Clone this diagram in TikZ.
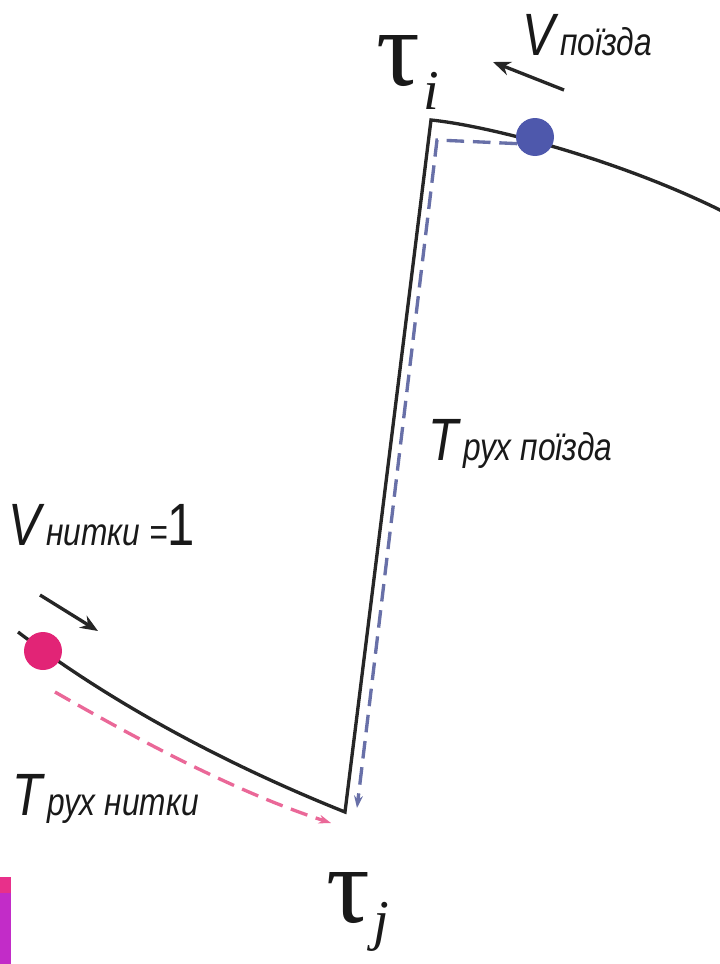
\documentclass[tikz,border=0pt]{standalone}
\usepackage{fontspec}
\usepackage{graphicx}
\newfontfamily\labelfont{Liberation Sans}
\newfontfamily\greekfont{Liberation Serif}
\usetikzlibrary{arrows.meta}

\definecolor{trainblue}{RGB}{78,88,172}
\definecolor{dashblue}{RGB}{104,112,168}
\definecolor{threadpink}{RGB}{226,36,118}
\definecolor{dashpink}{RGB}{234,104,152}
\definecolor{barpink}{RGB}{232,48,138}
\definecolor{barpurple}{RGB}{194,44,200}

\newcommand{\speedlbl}[2]{\scalebox{0.82}[1]{\labelfont\itshape\fontsize{34}{34}\selectfont #1\fontsize{22}{22}\selectfont\,#2}}
\newcommand{\taulbl}[2]{{\greekfont\fontsize{62}{62}\selectfont τ}\kern2pt\raisebox{#2}{\greekfont\itshape\fontsize{32}{32}\selectfont #1}}

\begin{document}
\begin{tikzpicture}[x=0.02cm, y=-0.02cm,
  graph/.style={line width=1.9pt, black!85, line join=miter},
  speed/.style={line width=1.9pt, black!85, -{Stealth[length=10pt,width=8pt]}},
  route/.style={line width=1.9pt, dash pattern=on 10pt off 5pt, -{Stealth[length=7pt,width=5pt]}},
  dot/.style={circle, inner sep=0pt, minimum size=0.76cm},
  lbl/.style={anchor=base west, inner sep=0pt, text=black!90}]
  \useasboundingbox (0,0) rectangle (720,964);
  \fill[barpink] (0,877) rectangle (11,893);
  \fill[barpurple] (0,893) rectangle (11,964);

  \coordinate (start) at (18,632);
  \coordinate (tj) at (345,812);
  \coordinate (ti) at (431,120);
  \coordinate (stop) at (724,212);
  \draw[graph] (start) .. controls (118,708) and (235,768) .. (tj) -- (ti)
    .. controls (490,126) and (620,160) .. (stop);

  \coordinate (pinkA) at (55,692);
  \coordinate (pinkB) at (331,823);
  \draw[route, dashpink] (pinkA) .. controls (130,735) and (230,790) .. (pinkB);
  \coordinate (blueA) at (437,140);
  \coordinate (blueB) at (357,808);

  \node[dot, fill=threadpink] (thread) at (43,651) {};
  \node[dot, fill=trainblue] (train) at (535,137) {};
  \draw[route, dashblue] (train.200) -- (blueA) -- (blueB);

  \coordinate (vtrainA) at (564,90);
  \coordinate (vtrainB) at (493,62);
  \draw[speed] (vtrainA) -- (vtrainB);
  \coordinate (vthreadA) at (40,595);
  \coordinate (vthreadB) at (98,631);
  \draw[speed] (vthreadA) -- (vthreadB);

  \node[lbl] (vtrain) at (522,55) {\speedlbl{V}{поїзда}};
  \node[lbl] (ttrain) at (428,460) {\speedlbl{T}{рух поїзда}};
  \node[lbl] (vthread) at (8,545) {\speedlbl{V}{нитки =\fontsize{34}{34}\selectfont\upshape 1}};
  \node[lbl] (tthread) at (12,815) {\speedlbl{T}{рух нитки}};

  \node[lbl] (taui) at (376,85) {\taulbl{i}{-14pt}};
  \node[lbl] (tauj) at (326,922) {\taulbl{j}{-10pt}};
\end{tikzpicture}
\end{document}
